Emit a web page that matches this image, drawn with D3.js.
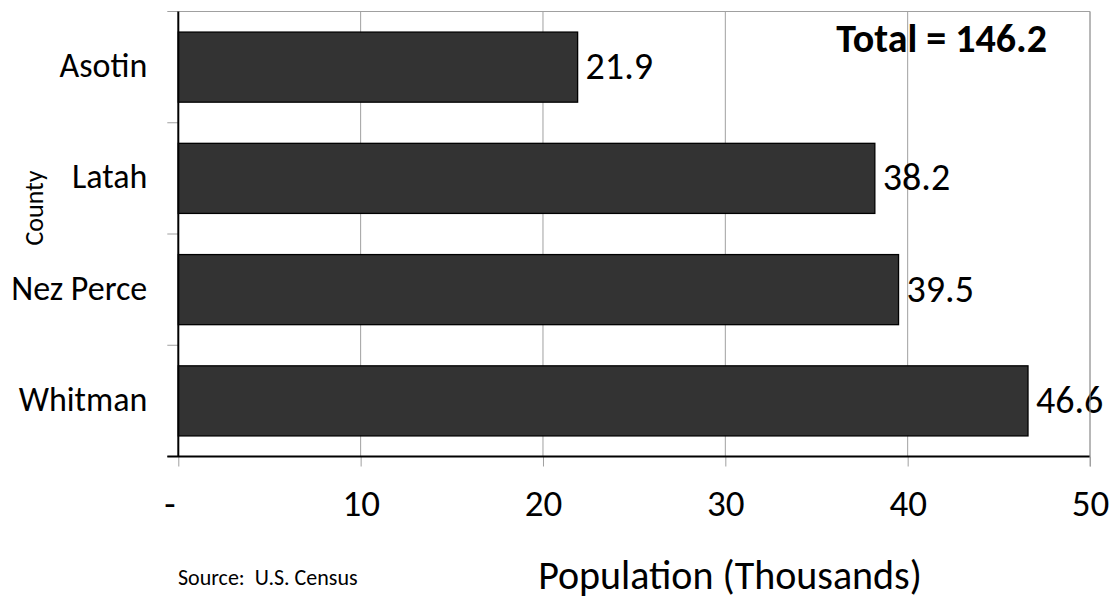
<!DOCTYPE html>
<html>
<head>
<meta charset="utf-8">
<script src="https://cdn.jsdelivr.net/npm/d3@7"></script>
<style>
  html, body { margin: 0; padding: 0; background: #fff; }
  svg { display: block; font-family: Carlito, Calibri, Lato, sans-serif; }
  text { white-space: pre; }
</style>
</head>
<body>
<svg id="chart" width="1117" height="604"></svg>
<script>
// County populations, in thousands
const counties = ["Asotin", "Latah", "Nez Perce", "Whitman"];
const population = [21.9, 38.2, 39.5, 46.6];
const xTicks = [0, 10, 20, 30, 40, 50];
const xTickLabels = ["-", "10", "20", "30", "40", "50"];
const totalLabel = "Total = 146.2";

const svg = d3.select("#chart");
const W = 1117, H = 604;
const margin = { left: 178.3, right: W - 1090, top: 11.5, bottom: H - 456.5 };

const x = d3.scaleLinear().domain([0, 50]).range([margin.left, W - margin.right]);
const y = d3.scaleBand().domain(counties).range([margin.top, H - margin.bottom])
  .paddingInner(0.37).paddingOuter(0.185);

const data = counties.map((c, i) => ({ county: c, value: population[i] }));

// vertical gridlines
svg.append("g").selectAll("line").data(xTicks.slice(1)).join("line")
  .attr("x1", d => x(d)).attr("x2", d => x(d))
  .attr("y1", margin.top).attr("y2", H - margin.bottom)
  .attr("stroke", "#a0a0a0").attr("stroke-width", 1);

// top frame edge
svg.append("line")
  .attr("x1", margin.left).attr("x2", W - margin.right)
  .attr("y1", margin.top).attr("y2", margin.top)
  .attr("stroke", "#a0a0a0").attr("stroke-width", 1);

// bars
svg.append("g").selectAll("rect").data(data).join("rect")
  .attr("x", x(0))
  .attr("y", d => y(d.county))
  .attr("width", d => x(d.value) - x(0))
  .attr("height", y.bandwidth())
  .attr("fill", "#333333")
  .attr("stroke", "#000").attr("stroke-width", 1.3);

// value labels
svg.append("g").selectAll("text").data(data).join("text")
  .attr("x", d => x(d.value) + 8)
  .attr("y", d => y(d.county) + y.bandwidth() / 2 + 12)
  .attr("font-size", 38)
  .attr("fill", "#000")
  .text(d => d.value.toFixed(1));

// x axis
const xAxis = d3.axisBottom(x).tickValues(xTicks)
  .tickFormat((d, i) => xTickLabels[i]).tickSize(10);
const gx = svg.append("g").attr("transform", `translate(0,${H - margin.bottom})`).call(xAxis);
gx.select(".domain").remove();
gx.selectAll(".tick line").attr("stroke", "#a0a0a0");
gx.selectAll(".tick text")
  .attr("y", 59).attr("dy", null)
  .attr("font-size", 37).attr("fill", "#000")
  .attr("font-family", "Carlito, Calibri, Lato, sans-serif")
  .attr("dx", (d, i) => i === 0 ? -9 : 0);

// y axis: ticks sit on band boundaries
const bounds = counties.map(c => y(c) - y.step() * y.paddingInner() / 2);
bounds[0] = margin.top;
bounds.push(H - margin.bottom);
svg.append("g").selectAll("line").data(bounds).join("line")
  .attr("x1", margin.left - 11).attr("x2", margin.left)
  .attr("y1", d => d).attr("y2", d => d)
  .attr("stroke", "#a0a0a0").attr("stroke-width", 1);

svg.append("g").selectAll("text").data(counties).join("text")
  .attr("x", margin.left - 31)
  .attr("y", d => y(d) + y.bandwidth() / 2 + 10)
  .attr("text-anchor", "end")
  .attr("font-size", 34)
  .attr("fill", "#000")
  .text(d => d);

// axis lines
svg.append("line")
  .attr("x1", margin.left).attr("x2", margin.left)
  .attr("y1", margin.top).attr("y2", H - margin.bottom)
  .attr("stroke", "#000").attr("stroke-width", 2);
svg.append("line")
  .attr("x1", margin.left - 11).attr("x2", W - margin.right)
  .attr("y1", H - margin.bottom).attr("y2", H - margin.bottom)
  .attr("stroke", "#000").attr("stroke-width", 2);
// right frame edge
svg.append("line")
  .attr("x1", W - margin.right).attr("x2", W - margin.right)
  .attr("y1", margin.top).attr("y2", H - margin.bottom + 10)
  .attr("stroke", "#a0a0a0").attr("stroke-width", 1);

// titles and notes
svg.append("text")
  .attr("transform", "translate(42.5,208) rotate(-90)")
  .attr("text-anchor", "middle")
  .attr("font-size", 26).attr("fill", "#000")
  .text("County");

svg.append("text")
  .attr("x", 730).attr("y", 589)
  .attr("text-anchor", "middle")
  .attr("font-size", 40).attr("fill", "#000")
  .text("Population (Thousands)");

svg.append("text")
  .attr("x", 178).attr("y", 585)
  .attr("font-size", 22).attr("fill", "#000")
  .text("Source:  U.S. Census");

svg.append("text")
  .attr("x", 1047).attr("y", 52)
  .attr("text-anchor", "end")
  .attr("font-size", 40).attr("font-weight", "bold").attr("fill", "#000")
  .text(totalLabel);
</script>
</body>
</html>
